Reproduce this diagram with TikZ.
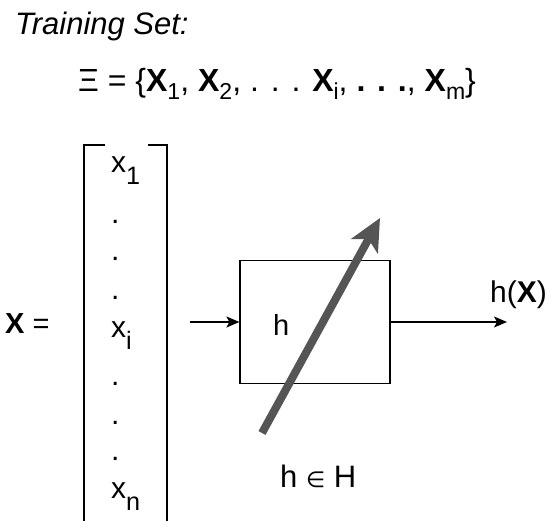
\documentclass[tikz,border=0pt]{standalone}
\usepackage{fontspec}
\setmainfont{Liberation Sans}
\newfontfamily\symbolfont{DejaVu Sans}
\usepackage{graphicx}
\usetikzlibrary{arrows.meta}

\definecolor{pointergray}{HTML}{555555}
\newcommand{\setsub}[1]{\raisebox{-0.22em}{\scalebox{0.72}{#1}}}
\newcommand{\vecsub}[1]{\raisebox{-0.4em}{\scalebox{0.84}{#1}}}

\tikzset{
  txt/.style={inner sep=0pt, anchor=base west},
  flow/.style={line width=1.2pt, -{Stealth[length=13pt,width=11pt,inset=3pt]}},
}

\begin{document}
\begin{tikzpicture}[x=1pt,y=-1pt]
  \useasboundingbox (0,0) rectangle (551,521);
  % training set
  \node[txt, font=\fontsize{31}{36}\selectfont\itshape] (title) at (15,35) {Training Set:};
  \node[txt, font=\fontsize{32}{40}\selectfont] (set) at (78,92)
    {Ξ = \{\textbf{X}\setsub{1}, \textbf{X}\setsub{2}, . . . \textbf{X}\setsub{i}, \textbf{. . .}, \textbf{X}\setsub{m}\}};
  % input vector
  \node[txt, font=\fontsize{29}{34}\selectfont] (xeq) at (5,333) {\textbf{X} =};
  \draw[line width=1.5pt] (105,145) -| (84,530);
  \draw[line width=1.5pt] (148,145) -| (167,521.5) -- (143,521.5);
  \foreach \n/\y/\t in {1/173/x\vecsub{1}, 2/224/., 3/260/., 4/299/., i/337/x\vecsub{i},
                        6/385/., 7/424/., 8/460/., n/498/x\vecsub{n}}
    \node[txt, font=\fontsize{30}{34}\selectfont] (x-\n) at (111,\y) {\t};
  % classifier
  \node[draw, line width=1.2pt, minimum width=150pt, minimum height=123pt, inner sep=0pt] (box) at (315,322) {};
  \node[txt, font=\fontsize{29}{34}\selectfont] (hlab) at (273,335) {h};
  \coordinate (in) at (190,322);
  \coordinate (out) at (507,322);
  \draw[flow] (in) -- (box.west);
  \draw[flow] (box.east) -- (out);
  \node[txt, font=\fontsize{30}{36}\selectfont] (hx) at (490,302) {h(\textbf{X})};
  % hypothesis space
  \coordinate (tail) at (262,433);
  \coordinate (tip) at (380,218);
  \draw[pointergray, line width=8pt, -{Stealth[length=32pt,width=30pt,inset=8pt]}] (tail) -- (tip);
  \node[txt, font=\fontsize{31}{36}\selectfont] (hin) at (280,487) {h {\symbolfont\fontsize{22}{26}\selectfont ∈} H};
\end{tikzpicture}
\end{document}
